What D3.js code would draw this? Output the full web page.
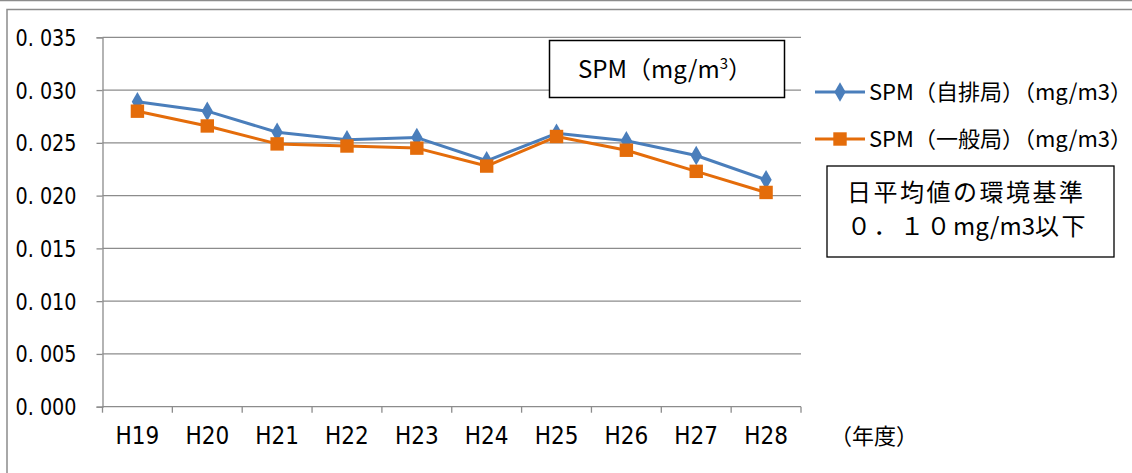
<!DOCTYPE html>
<html>
<head>
<meta charset="utf-8">
<script src="https://cdn.jsdelivr.net/npm/d3@7"></script>
<style>
  html, body { margin: 0; padding: 0; background: #fff; }
  svg { display: block; }
  .lat { font-family: "Liberation Sans Narrow", "DejaVu Sans Condensed", "Noto Sans CJK JP", sans-serif; }
  .jp { font-family: "Liberation Sans Narrow", "Noto Sans CJK JP", sans-serif; }
</style>
</head>
<body>
<svg id="chart" width="1132" height="473"></svg>
<script>
// Fiscal years (Heisei)
const years = ["H19", "H20", "H21", "H22", "H23", "H24", "H25", "H26", "H27", "H28"];
// Annual mean SPM, roadside stations (自排局), mg/m3
const roadside = [0.0289, 0.0280, 0.0260, 0.0253, 0.0255, 0.0233, 0.0259, 0.0252, 0.0238, 0.0215];
// Annual mean SPM, general stations (一般局), mg/m3
const general = [0.0280, 0.0266, 0.0249, 0.0247, 0.0245, 0.0228, 0.0256, 0.0243, 0.0223, 0.0203];
// Y axis ticks
const yTicks = [0, 0.005, 0.010, 0.015, 0.020, 0.025, 0.030, 0.035];

const seriesNames = ["SPM（自排局）（mg/m3）", "SPM（一般局）（mg/m3）"];
const colors = ["#4a7ebb", "#e46c0a"];

const svg = d3.select("#chart");
const W = 1132, H = 473;

// outer frame
svg.append("line").attr("x1", 0).attr("x2", W).attr("y1", 0.5).attr("y2", 0.5)
  .attr("stroke", "#8c8c8c").attr("stroke-width", 1.5);
svg.append("path").attr("d", `M7,${H} V9.5 H${W}`)
  .attr("fill", "none").attr("stroke", "#8c8c8c").attr("stroke-width", 1.5);

const x = d3.scaleBand().domain(years).range([102.5, 801]);
const y = d3.scaleLinear().domain([0, 0.035]).range([406.7, 37.3]);

// horizontal gridlines
svg.append("g").selectAll("line").data(yTicks).join("line")
  .attr("x1", 102.5).attr("x2", 801)
  .attr("y1", d => y(d)).attr("y2", d => y(d))
  .attr("stroke", "#8c8c8c").attr("stroke-width", 1.3);

// y axis
const yAxis = svg.append("g").attr("transform", "translate(102.5,0)")
  .call(d3.axisLeft(y).tickValues(yTicks).tickSize(6).tickPadding(20)
    .tickFormat(d => d3.format(".3f")(d).replace(".", ". ")));
yAxis.select(".domain").attr("stroke", "#8c8c8c").attr("stroke-width", 1.3);
yAxis.selectAll(".tick line").attr("stroke", "#8c8c8c").attr("stroke-width", 1.3);
yAxis.selectAll(".tick text").attr("class", "lat").attr("font-size", 23)
  .attr("fill", "#000").attr("dy", "0.35em").style("white-space", "pre")
  .attr("textLength", 61).attr("lengthAdjust", "spacingAndGlyphs");

// x axis
const xAxis = svg.append("g").attr("transform", `translate(0,${y(0)})`)
  .call(d3.axisBottom(x).tickSize(0).tickPadding(20));
xAxis.select(".domain").remove();
xAxis.selectAll(".tick text").attr("class", "lat").attr("font-size", 24).attr("fill", "#000");
// boundary ticks between categories
const bounds = years.map(d => x(d)).concat([x.range()[1]]);
svg.append("g").selectAll("line").data(bounds).join("line")
  .attr("x1", d => d).attr("x2", d => d)
  .attr("y1", y(0)).attr("y2", y(0) + 6)
  .attr("stroke", "#8c8c8c").attr("stroke-width", 1.3);

svg.append("text").attr("class", "jp").attr("x", 830).attr("y", y(0) + 37)
  .attr("font-size", 22).text("（年度）");

// series lines and markers
const cx = d => x(d) + x.bandwidth() / 2;
const line = d3.line().x((d, i) => cx(years[i])).y(d => y(d));
const diamond = d3.symbol().type(d3.symbolDiamond).size(110);
const square = d3.symbol().type(d3.symbolSquare).size(180);

[roadside, general].forEach((vals, k) => {
  svg.append("path").datum(vals).attr("d", line)
    .attr("fill", "none").attr("stroke", colors[k]).attr("stroke-width", 3)
    .attr("stroke-linejoin", "round");
});
[roadside, general].forEach((vals, k) => {
  svg.append("g").selectAll("path").data(vals).join("path")
    .attr("transform", (d, i) => `translate(${cx(years[i])},${y(d)})`)
    .attr("d", k === 0 ? diamond : square)
    .attr("fill", colors[k]);
});

// title box
svg.append("rect").attr("x", 549.5).attr("y", 40.5).attr("width", 235).attr("height", 57)
  .attr("fill", "#fff").attr("stroke", "#000").attr("stroke-width", 1.5);
const title = svg.append("text").attr("class", "jp").attr("x", 665).attr("y", 78)
  .attr("text-anchor", "middle").attr("font-size", 24);
title.append("tspan").text("SPM（mg/m");
title.append("tspan").attr("font-size", 15).attr("dy", -9).text("3");
title.append("tspan").attr("dy", 9).text("）");

// legend
seriesNames.forEach((name, k) => {
  const ly = 92 + k * 47;
  svg.append("line").attr("x1", 815).attr("x2", 865).attr("y1", ly).attr("y2", ly)
    .attr("stroke", colors[k]).attr("stroke-width", 3);
  svg.append("path").attr("transform", `translate(840,${ly})`)
    .attr("d", k === 0 ? diamond : square).attr("fill", colors[k]);
  svg.append("text").attr("class", "jp").attr("x", 869).attr("y", ly + 8)
    .attr("font-size", 22).text(name);
});

// standard note box
svg.append("rect").attr("x", 827).attr("y", 166).attr("width", 287).attr("height", 91)
  .attr("fill", "#fff").attr("stroke", "#000").attr("stroke-width", 1.3);
const note = svg.append("g").attr("font-family", "'Noto Sans CJK JP', sans-serif")
  .attr("font-size", 24);
note.append("text").attr("x", 847).attr("y", 201).attr("letter-spacing", 2.5)
  .text("日平均値の環境基準");
const note2 = note.append("text").attr("x", 847).attr("y", 235);
note2.append("tspan").attr("letter-spacing", 2.5).text("０．１０");
note2.append("tspan").attr("letter-spacing", 0).text("mg/m3");
note2.append("tspan").attr("letter-spacing", 2.5).text("以下");
</script>
</body>
</html>
